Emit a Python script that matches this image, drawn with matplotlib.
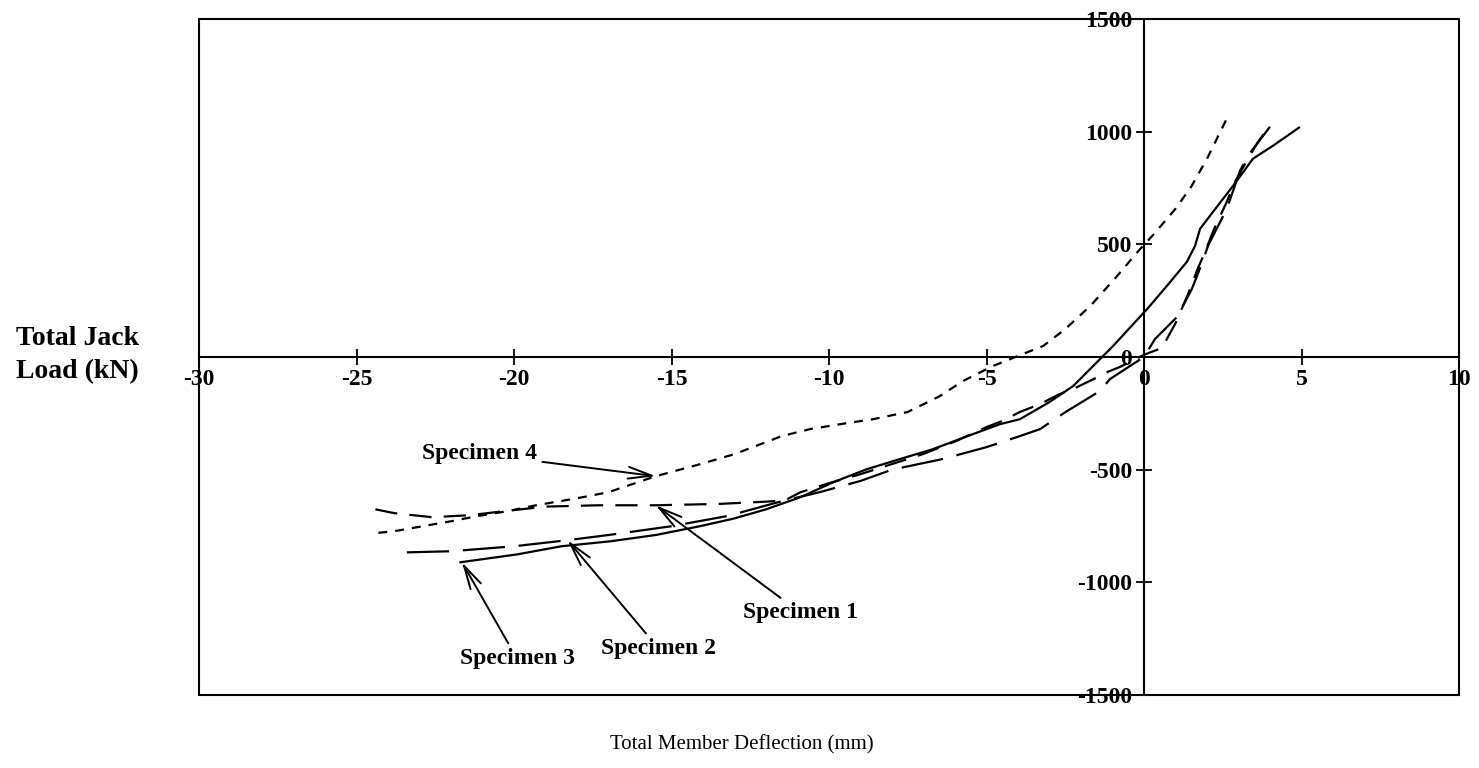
import matplotlib
matplotlib.use("Agg")
import matplotlib.pyplot as plt
from matplotlib.patches import Rectangle

plt.rcParams["font.family"] = ["Liberation Serif", "DejaVu Serif"]
plt.rcParams["axes.unicode_minus"] = False

# Load-deflection records (deflection in mm, jack load in kN)
spec1_x = [-24.4, -23.8, -22.6, -21.4, -20.3, -19.0, -17.3, -15.5, -13.5, -12.0, -11.4,
           -10.9, -10.0, -9.0, -8.0, -7.0, -6.0, -5.0, -4.5, -3.94, -3.3, -2.67, -2.25,
           -1.6, -1.17, -0.76, 0.0, 0.57, 1.0, 1.4, 1.7, 1.95, 2.2, 2.6, 2.9, 3.3, 3.6, 3.9]
spec1_y = [-676, -693, -711, -702, -684, -664, -658, -658, -652, -642, -636,
           -600, -560, -520, -475, -430, -375, -311, -284, -244, -209, -164, -142,
           -98, -67, -44, 10, 40, 150, 280, 390, 470, 560, 680, 780, 880, 950, 1010]

spec2_x = [-23.4, -22.0, -20.0, -18.3, -17.0, -15.0, -13.2, -11.5, -10.3, -9.0, -8.0,
           -6.4, -5.0, -3.94, -3.3, -2.5, -1.4, -1.08, -0.5, 0.0, 0.35, 1.05, 1.52,
           1.87, 2.03, 2.63, 3.05, 3.3, 4.0]
spec2_y = [-867, -862, -840, -813, -790, -751, -705, -640, -600, -550, -500,
           -453, -400, -351, -320, -245, -151, -98, -45, 0, 80, 178, 302,
           427, 493, 658, 827, 893, 1022]

spec3_x = [-21.7, -19.9, -18.5, -16.95, -15.5, -14.1, -13.05, -12.0, -10.9, -9.87, -8.8,
           -7.75, -6.7, -5.6, -4.57, -3.94, -3.0, -2.25, -1.33, -0.98, 0.1, 0.73, 1.36,
           1.62, 1.78, 2.19, 2.83, 3.46, 4.1, 4.92]
spec3_y = [-911, -876, -840, -818, -790, -751, -718, -676, -622, -556, -498,
           -453, -409, -351, -298, -276, -200, -129, 0, 49, 213, 316, 422,
           493, 569, 644, 760, 880, 938, 1018]

spec4_x = [2.6, 2.0, 1.5, 1.0, 0.35, -0.2, -0.85, -1.7, -2.5, -3.2, -3.85, -4.8, -5.75,
           -6.5, -7.5, -8.6, -9.5, -10.6, -11.5, -13.0, -14.1, -15.5, -17.0, -18.0,
           -19.3, -20.2, -21.2, -22.0, -22.9, -23.8, -24.5]
spec4_y = [1050, 880, 756, 658, 551, 467, 360, 227, 124, 49, 13, -40, -107,
           -175, -244, -276, -295, -320, -351, -431, -476, -529, -600, -627,
           -658, -684, -707, -729, -751, -773, -783]

x_ticks = [-30, -25, -20, -15, -10, -5, 0, 5, 10]
y_ticks = [-1500, -1000, -500, 0, 500, 1000, 1500]

fig = plt.figure(figsize=(14.79, 7.68), dpi=100)
ax = fig.add_axes([199 / 1479, 1 - 695 / 768, 1260 / 1479, 676 / 768])
ax.set_xlim(-30, 10)
ax.set_ylim(-1500, 1500)

lw = 1.6
ax.plot(spec1_x, spec1_y, color="black", lw=lw, dashes=(10, 5.5))
ax.plot(spec2_x, spec2_y, color="black", lw=lw, dashes=(19, 6.2))
ax.plot(spec3_x, spec3_y, color="black", lw=lw)
ax.plot(spec4_x, spec4_y, color="black", lw=lw, dashes=(4.0, 3.6))

# Axes cross through the origin; a rectangle frames the plotting area
for side in ("left", "bottom"):
    ax.spines[side].set_position(("data", 0))
    ax.spines[side].set_linewidth(1.5)
for side in ("top", "right"):
    ax.spines[side].set_visible(False)
ax.add_patch(Rectangle((0, 0), 1, 1, transform=ax.transAxes, fill=False,
                       lw=1.5, edgecolor="black", clip_on=False))

ax.set_xticks(x_ticks)
ax.set_yticks(y_ticks)
ax.set_xticklabels([str(v) for v in x_ticks])
ax.set_yticklabels([str(v) for v in y_ticks])
ax.tick_params(direction="inout", length=11, width=1.3, labelsize=17, pad=3)
for lab in ax.get_xticklabels() + ax.get_yticklabels():
    lab.set_fontweight("bold")

fig.text(16 / 1479, 1 - 355 / 768, "Total Jack\nLoad (kN)", ha="left", va="center",
         fontsize=20, fontweight="bold", linespacing=1.4)
fig.text(742 / 1479, 1 - 745 / 768, "Total Member Deflection (mm)", ha="center",
         va="center", fontsize=15)

arrow = dict(arrowstyle="->, head_length=1.0, head_width=0.25", color="black", lw=1.4,
             shrinkA=2, shrinkB=0)
ann_kw = dict(fontsize=17, fontweight="bold", arrowprops=arrow)
ax.annotate("Specimen 4", xy=(spec4_x[21], spec4_y[21]), xytext=(-21.1, -430),
            ha="center", va="center", **ann_kw)
ax.annotate("Specimen 1", xy=(spec1_x[7], spec1_y[7]), xytext=(-10.9, -1135),
            ha="center", va="center", **ann_kw)
ax.annotate("Specimen 2", xy=(spec2_x[3], spec2_y[3]), xytext=(-15.4, -1295),
            ha="center", va="center", **ann_kw)
ax.annotate("Specimen 3", xy=(spec3_x[0] + 0.05, spec3_y[0]), xytext=(-19.9, -1340),
            ha="center", va="center", **ann_kw)

fig.savefig("out.png", dpi=100)
